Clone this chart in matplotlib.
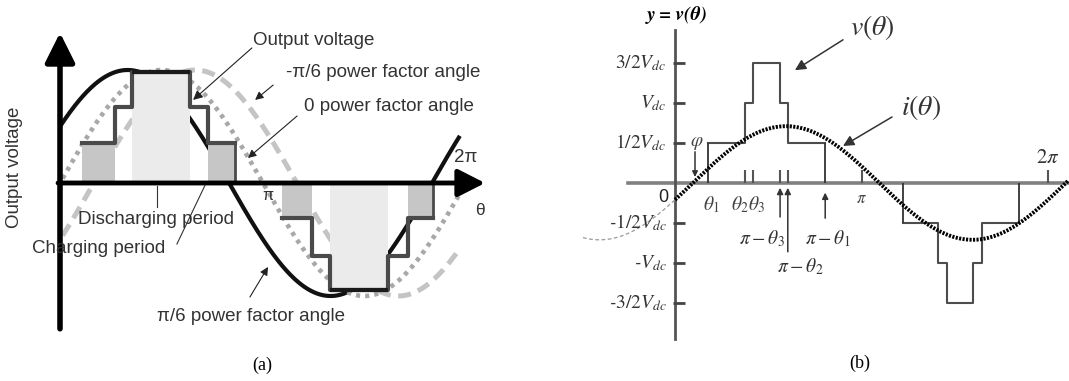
import numpy as np
import matplotlib
matplotlib.use('Agg')
import matplotlib.pyplot as plt

plt.rcParams['mathtext.fontset'] = 'stix'

# ---------------- (a) data ----------------
pf_shift_a = [np.pi / 6, 0.0, -np.pi / 6]          # pi/6, 0, -pi/6 power factor angle
curve_end_a = [6.19, 6.25, 6.20]
steps_pos_a = [0.34, 0.85, 1.12, 2.01, 2.29, 2.71]  # switching angles, positive half
steps_neg_a = [3.44, 3.90, 4.18, 5.08, 5.39, 5.77]  # switching angles, negative half
levels_pos_a = [0.35, 0.67, 0.98]
levels_neg_a = [-0.31, -0.65, -0.95]

# ---------------- (b) data ----------------
steps_pos_b = [0.56, 1.18, 1.31, 1.77, 1.90, 2.53]  # theta1, theta2, theta3, pi-theta3, pi-theta2, pi-theta1
steps_neg_b = [3.84, 4.43, 4.58, 5.02, 5.17, 5.79]
levels_b = [0.5, 1.0, 1.5]
ytick_vals_b = [1.5, 1.0, 0.5, -0.5, -1.0, -1.5]
ytick_text_b = [r'$3/2V_{dc}$', r'$V_{dc}$', r'$1/2V_{dc}$',
                '-' + r'$1/2V_{dc}$', '-' + r'$V_{dc}$', '-' + r'$3/2V_{dc}$']
i_amp = 0.71
i_phi = 0.30

W, H = 1069, 381
fig = plt.figure(figsize=(W / 100, H / 100), dpi=100)

SANS = 'Liberation Sans'
TXT = '#333333'


def staircase(angles, levels):
    # x / y for step(where='post'): up 1-2-3 then down 2-1
    lv = [levels[0], levels[1], levels[2], levels[1], levels[0], levels[0]]
    return angles, lv


# ======================= panel (a) =======================
axa = fig.add_axes([0, 0, 530 / W, 1])
axa.set_xlim((0 - 60) / 64.6, (530 - 60) / 64.6)
axa.set_ylim((183 - 381) / 113, 183 / 113)
axa.axis('off')

# sine curves
th = np.linspace(0, curve_end_a[0], 400)
axa.plot(th, np.sin(th + pf_shift_a[0]), color='#111111', lw=3, zorder=1,
         solid_capstyle='butt')
th = np.linspace(0.04, curve_end_a[1], 400)
axa.plot(th, np.sin(th + pf_shift_a[1]), color='#a8a8a8', lw=3.3, zorder=1,
         ls=(0, (0.9, 1.1)))
th = np.linspace(0.04, curve_end_a[2], 400)
axa.plot(th, np.sin(th + pf_shift_a[2]), color='#c4c4c4', lw=3.6, zorder=1,
         ls=(0, (2.6, 1.5)))

# charging / discharging rectangles
for ang, lev in [(steps_pos_a, levels_pos_a), (steps_neg_a, levels_neg_a)]:
    axa.bar(ang[0], lev[0], width=ang[1] - ang[0], align='edge', color='#c6c6c6', zorder=2)
    axa.bar(ang[2], lev[2], width=ang[3] - ang[2], align='edge', color='#ebebeb', zorder=2)
    axa.bar(ang[4], lev[0], width=ang[5] - ang[4], align='edge', color='#c6c6c6', zorder=2)
    x, y = staircase(ang, lev)
    axa.step(x, y, where='post', color='#4a4a4a', lw=3, zorder=3)
    axa.vlines(ang[5], 0, lev[0], color='#4a4a4a', lw=2, zorder=3)
    # top of the discharging block is drawn darker
    axa.hlines(lev[2], ang[2], ang[3], color='#1a1a1a', lw=3, zorder=3)

# axes arrows
axa.annotate('', xy=(0, 1.33), xytext=(0, -1.29), zorder=5,
             arrowprops=dict(arrowstyle='-|>,head_length=0.6,head_width=0.3',
                             mutation_scale=30, lw=4, color='black',
                             shrinkA=0, shrinkB=0))
axa.annotate('', xy=(6.58, 0), xytext=(-0.03, 0), zorder=5,
             arrowprops=dict(arrowstyle='-|>,head_length=0.55,head_width=0.28',
                             mutation_scale=30, lw=3.5, color='black',
                             shrinkA=0, shrinkB=0))

fs = 13.5
axa.text(-0.70, 0.14, 'Output voltage', rotation=90, ha='center', va='center',
         fontsize=fs, family=SANS, color=TXT)
axa.text(2 * np.pi, 0.23, '2π', ha='center', va='center', fontsize=fs, family=SANS, color=TXT)
axa.text(6.50, -0.24, 'θ', ha='center', va='center', fontsize=fs - 1, family=SANS, color=TXT)
axa.text(3.22, -0.11, 'π', ha='center', va='center', fontsize=fs - 2, family=SANS, color=TXT)


def arrow_a(txt, txy, tip, start, hs=10):
    axa.text(txy[0], txy[1], txt, ha='center', va='center', fontsize=fs,
             family=SANS, color=TXT, zorder=6)
    axa.annotate('', xy=tip, xytext=start, zorder=6,
                 arrowprops=dict(arrowstyle='-|>', mutation_scale=hs, lw=0.8,
                                 color='#222222', shrinkA=0, shrinkB=0))


arrow_a('Output voltage', (3.93, 1.257), (2.06, 0.735), (2.97, 1.195), hs=14)
arrow_a('-π/6 power factor angle', (5.00, 0.982), (3.02, 0.735), (3.30, 0.867), hs=12)
arrow_a('0 power factor angle', (5.09, 0.681), (2.91, 0.221), (3.67, 0.593), hs=12)
arrow_a('π/6 power factor angle', (2.96, -1.177), (3.22, -0.743), (2.94, -1.009), hs=12)

axa.text(1.49, -0.327, 'Discharging period', ha='center', va='center', fontsize=fs,
         family=SANS, color=TXT, zorder=6)
axa.plot([1.50, 1.50], [-0.03, -0.21], color='#333333', lw=0.8, zorder=6)
axa.text(0.60, -0.584, 'Charging period', ha='center', va='center', fontsize=fs,
         family=SANS, color=TXT, zorder=6)
axa.plot([2.245, 1.81], [-0.02, -0.54], color='#333333', lw=0.8, zorder=6)

axa.text(3.127, -1.611, '(a)', ha='center', va='center', fontsize=13,
         family='Liberation Serif', color='black')

# ======================= panel (b) =======================
axb = fig.add_axes([530 / W, 0, 539 / W, 1])
axb.set_xlim((530 - 675) / 59.37, (1069 - 675) / 59.37)
axb.set_ylim((183 - 381) / 80, 183 / 80)
axb.axis('off')

# staircase v(theta)
neg_levels = [-l for l in levels_b]
for ang, lev in [(steps_pos_b, levels_b), (steps_neg_b, neg_levels)]:
    x, y = staircase(ang, lev)
    axb.step(x, y, where='post', color='#4d4d4d', lw=1.5, zorder=2)
    axb.vlines([ang[0], ang[5]], 0, lev[0], color='#333333', lw=1.3, zorder=2)

# current i(theta)
th = np.linspace(0, 6.62, 500)
axb.plot(th, i_amp * np.sin(th - i_phi), color='black', lw=2.8, ls=(0, (0.55, 0.35)), zorder=3)
th = np.linspace(-1.55, 0, 100)
axb.plot(th, i_amp * np.sin(th - i_phi), color='#9a9a9a', lw=0.9, ls=(0, (3, 2)), zorder=3)

# axes
axb.plot([-0.79, 6.62], [0, 0], color='#808080', lw=2.6, zorder=1)
axb.plot([0, 0], [-1.95, 1.91], color='#555555', lw=2, zorder=1)
axb.hlines(ytick_vals_b, -0.04, 0.17, color='#444444', lw=2, zorder=1)
xt = steps_pos_b[1:5] + [np.pi, 2 * np.pi]
axb.vlines(xt, 0, 0.16, color='#555555', lw=1.5, zorder=1)

fsb = 14
for v, t in zip(ytick_vals_b, ytick_text_b):
    axb.text(-0.14, v, t, ha='right', va='center', fontsize=fsb,
             family='STIXGeneral', style='italic', color='#333333')

axb.text(0.034, 2.10, 'y = v(θ)', ha='center', va='center', fontsize=14,
         family='STIXGeneral', style='italic', weight='bold', color='black')
axb.text(-0.20, -0.175, '0', ha='center', va='center', fontsize=13, family=SANS, color='#222222')
axb.text(np.pi, -0.19, r'$\pi$', ha='center', va='center', fontsize=12, color='#444444')
axb.text(2 * np.pi, 0.33, r'$2\pi$', ha='center', va='center', fontsize=15, color='#333333')
axb.text(steps_pos_b[0] + 0.06, -0.275, r'$\theta_1$', ha='center', va='center', fontsize=fsb, color='#444444')
axb.text(1.23, -0.275, r'$\theta_2\theta_3$', ha='center', va='center', fontsize=fsb, color='#444444')
axb.text(1.465, -0.69, r'$\pi-\theta_3$', ha='center', va='center', fontsize=fsb, color='#333333')
axb.text(2.105, -1.04, r'$\pi-\theta_2$', ha='center', va='center', fontsize=fsb, color='#333333')
axb.text(2.577, -0.70, r'$\pi-\theta_1$', ha='center', va='center', fontsize=fsb, color='#333333')
axb.text(0.37, 0.50, r'$\varphi$', ha='center', va='center', fontsize=fsb, color='#444444')


def arrow_b(tip, start, hs=9):
    axb.annotate('', xy=tip, xytext=start, zorder=4,
                 arrowprops=dict(arrowstyle='-|>', mutation_scale=hs, lw=1.1,
                                 color='#333333', shrinkA=0, shrinkB=0))


arrow_b((0.337, 0.075), (0.337, 0.39), hs=8)
arrow_b((steps_pos_b[3], -0.06), (steps_pos_b[3], -0.425))
arrow_b((steps_pos_b[4], -0.06), (steps_pos_b[4], -0.86))
arrow_b((steps_pos_b[5], -0.12), (steps_pos_b[5], -0.44))

axb.text(3.318, 1.94, r'$v(\theta)$', ha='center', va='center', fontsize=20, color='#333333')
arrow_b((2.02, 1.41), (2.83, 1.79), hs=16)
axb.text(4.14, 0.94, r'$i(\theta)$', ha='center', va='center', fontsize=20, color='#333333')
arrow_b((2.83, 0.4625), (3.655, 0.825), hs=16)

axb.text(3.116, -2.25, '(b)', ha='center', va='center', fontsize=13,
         family='Liberation Serif', color='black')

fig.savefig('out.png', dpi=100)
